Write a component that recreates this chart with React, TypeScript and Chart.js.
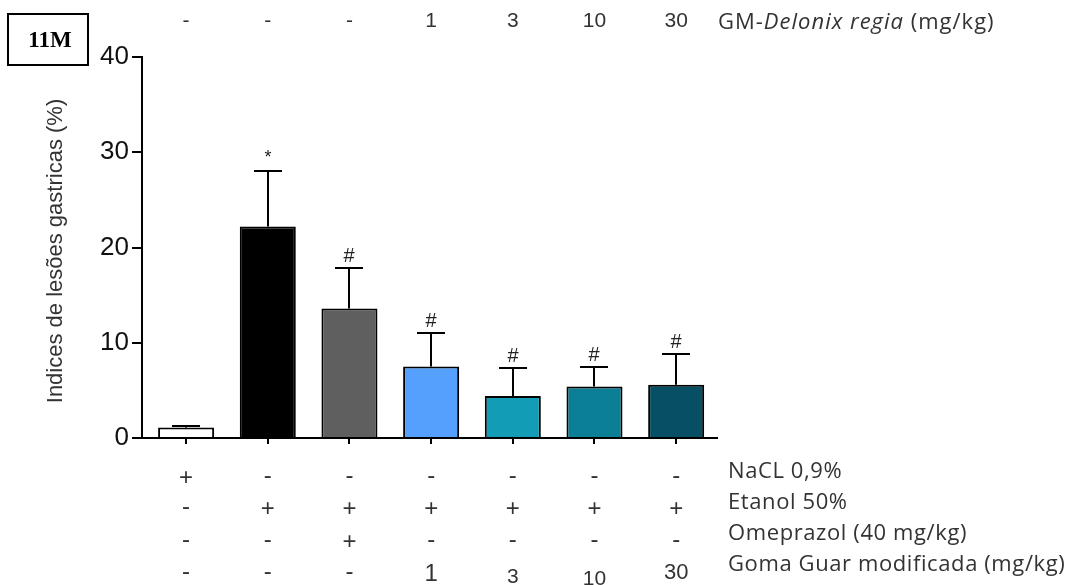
import React, { useEffect, useRef } from 'react';
import { Chart, registerables } from 'chart.js';

Chart.register(...registerables);

// Experimental groups (one bar each)
const groups = ['NaCl', 'Etanol', 'Omeprazol', 'GM 1', 'GM 3', 'GM 10', 'GM 30'];
// Mean gastric lesion index (%) and SEM for each group
const meanLesion = [1.1, 22.2, 13.6, 7.5, 4.4, 5.4, 5.6];
const semLesion = [0.2, 5.8, 4.2, 3.5, 2.9, 2.1, 3.2];
// Significance markers above the error bars
const significance = ['', '*', '#', '#', '#', '#', '#'];
// Y axis ticks
const yTickValues = [0, 10, 20, 30, 40];
// Treatment table rows
const delonixDoses = ['-', '-', '-', '1', '3', '10', '30'];
const naclRow = ['+', '-', '-', '-', '-', '-', '-'];
const etanolRow = ['-', '+', '+', '+', '+', '+', '+'];
const omeprazolRow = ['-', '-', '+', '-', '-', '-', '-'];
const guarRow = ['-', '-', '-', '1', '3', '10', '30'];
const rowLabels = ['NaCL 0,9%', 'Etanol 50%', 'Omeprazol (40 mg/kg)', 'Goma Guar modificada (mg/kg)'];

const barColors = ['#ffffff', '#000000', '#5f5f5f', '#559ffd', '#139cb5', '#0a7f96', '#064f64'];

const SANS = '"Liberation Sans", Arial, sans-serif';
const LABEL = '"Open Sans", sans-serif';

// dose numbers in the last table row are set with slightly different sizes
const guarNumberStyle: Record<number, { size: number; base: number }> = {
  3: { size: 24, base: 581 },
  4: { size: 21, base: 583 },
  5: { size: 21, base: 585 },
  6: { size: 22, base: 579 },
};

const decorations = {
  id: 'decorations',
  afterDatasetsDraw(chart: any) {
    const { ctx, scales } = chart;
    const x = scales.x;
    const y = scales.y;
    ctx.save();
    ctx.strokeStyle = '#000';
    ctx.lineWidth = 2;
    meanLesion.forEach((m, i) => {
      const cx = Math.round(x.getPixelForValue(i));
      const base = y.getPixelForValue(m);
      const top = Math.round(y.getPixelForValue(m + semLesion[i]));
      ctx.beginPath();
      ctx.moveTo(cx, base);
      ctx.lineTo(cx, top);
      ctx.moveTo(cx - 14, top);
      ctx.lineTo(cx + 14, top);
      ctx.stroke();
      if (significance[i]) {
        const star = significance[i] === '*';
        ctx.fillStyle = '#222';
        ctx.font = `${star ? 18 : 20}px ${SANS}`;
        ctx.textAlign = 'center';
        ctx.textBaseline = 'alphabetic';
        ctx.fillText(significance[i], cx, top - (star ? 8 : 6));
      }
    });
    ctx.restore();
  },
  afterDraw(chart: any) {
    const { ctx, scales } = chart;
    const x = scales.x;
    ctx.save();

    // header row: GM-Delonix regia doses
    ctx.fillStyle = '#333';
    ctx.textAlign = 'center';
    ctx.textBaseline = 'alphabetic';
    ctx.font = `21px ${SANS}`;
    delonixDoses.forEach((t, i) => ctx.fillText(t, x.getPixelForValue(i), 27));
    ctx.textAlign = 'left';
    ctx.letterSpacing = '1px';
    let tx = 718;
    const headParts: [string, string][] = [['GM-', 'normal'], ['Delonix regia', 'italic'], [' (mg/kg)', 'normal']];
    headParts.forEach(([t, s]) => {
      ctx.font = `${s} 22px ${LABEL}`;
      ctx.fillText(t, tx, 29);
      tx += ctx.measureText(t).width;
    });
    ctx.letterSpacing = '0px';

    // treatment table below the axis
    const rows = [naclRow, etanolRow, omeprazolRow, guarRow];
    const rowCenters = [477, 508, 541, 573];
    ctx.textAlign = 'center';
    rows.forEach((row, r) => {
      row.forEach((t, i) => {
        const cx = x.getPixelForValue(i);
        if (t === '+' || t === '-') {
          ctx.font = `24px ${SANS}`;
          ctx.fillText(t, cx, rowCenters[r] + (t === '+' ? 8 : 6));
        } else {
          const st = guarNumberStyle[i] || { size: 21, base: rowCenters[r] + 7 };
          ctx.font = `${st.size}px ${SANS}`;
          ctx.fillText(t, cx, st.base);
        }
      });
    });
    ctx.textAlign = 'left';
    ctx.letterSpacing = '0.6px';
    ctx.font = `22px ${LABEL}`;
    const labelBase = [478, 509, 540, 571];
    rowLabels.forEach((t, r) => ctx.fillText(t, 728, labelBase[r]));
    ctx.letterSpacing = '0px';

    // y axis title
    ctx.save();
    ctx.translate(56, 251);
    ctx.rotate(-Math.PI / 2);
    ctx.textAlign = 'center';
    ctx.textBaseline = 'middle';
    ctx.font = `22px ${SANS}`;
    ctx.fillStyle = '#333';
    ctx.fillText('Indices de lesões gastricas (%)', 0, 0);
    ctx.restore();

    // panel tag
    ctx.strokeStyle = '#000';
    ctx.lineWidth = 2;
    ctx.strokeRect(8, 14, 80, 51);
    ctx.fillStyle = '#000';
    ctx.textAlign = 'center';
    ctx.textBaseline = 'alphabetic';
    ctx.font = 'bold 23px "Liberation Serif", "Times New Roman", serif';
    ctx.fillText('11M', 50, 47);

    ctx.restore();
  },
};

export default function App() {
  const canvasRef = useRef<HTMLCanvasElement | null>(null);

  useEffect(() => {
    if (!canvasRef.current) return;
    const chart = new Chart(canvasRef.current, {
      type: 'bar',
      data: {
        datasets: [
          {
            label: 'Indices de lesões gastricas (%)',
            data: meanLesion.map((v, i) => ({ x: i, y: v })),
            backgroundColor: barColors,
            borderColor: '#000',
            borderWidth: 2,
            barPercentage: 0.686,
            categoryPercentage: 1,
          },
        ],
      },
      options: {
        responsive: false,
        animation: false,
        devicePixelRatio: 1,
        layout: { padding: { left: 0, top: 57, right: 353, bottom: 127 } },
        plugins: { legend: { display: false }, tooltip: { enabled: false } },
        scales: {
          x: {
            type: 'linear',
            offset: false,
            min: -0.54,
            max: 6.5,
            afterBuildTicks: (scale: any) => {
              scale.ticks = groups.map((_, i) => ({ value: i }));
            },
            afterFit: (scale: any) => {
              scale.height = 20;
            },
            ticks: { display: false },
            grid: {
              offset: false,
              drawOnChartArea: false,
              drawTicks: true,
              tickLength: 6,
              color: '#000',
              lineWidth: 2,
            },
            border: { color: '#000', width: 2 },
          },
          y: {
            min: 0,
            max: 40,
            afterBuildTicks: (scale: any) => {
              scale.ticks = yTickValues.map((v) => ({ value: v }));
            },
            afterFit: (scale: any) => {
              scale.width = 142;
            },
            ticks: { color: '#111', font: { family: SANS, size: 26 }, padding: 3 },
            grid: { drawOnChartArea: false, drawTicks: true, tickLength: 10, color: '#000', lineWidth: 2 },
            border: { color: '#000', width: 2 },
          },
        },
      },
      plugins: [decorations],
    });
    return () => chart.destroy();
  }, []);

  return (
    <div style={{ position: 'absolute', left: 0, top: 0, width: 1070, height: 585, background: '#fff' }}>
      <canvas ref={canvasRef} width={1070} height={585} style={{ display: 'block' }} />
    </div>
  );
}
